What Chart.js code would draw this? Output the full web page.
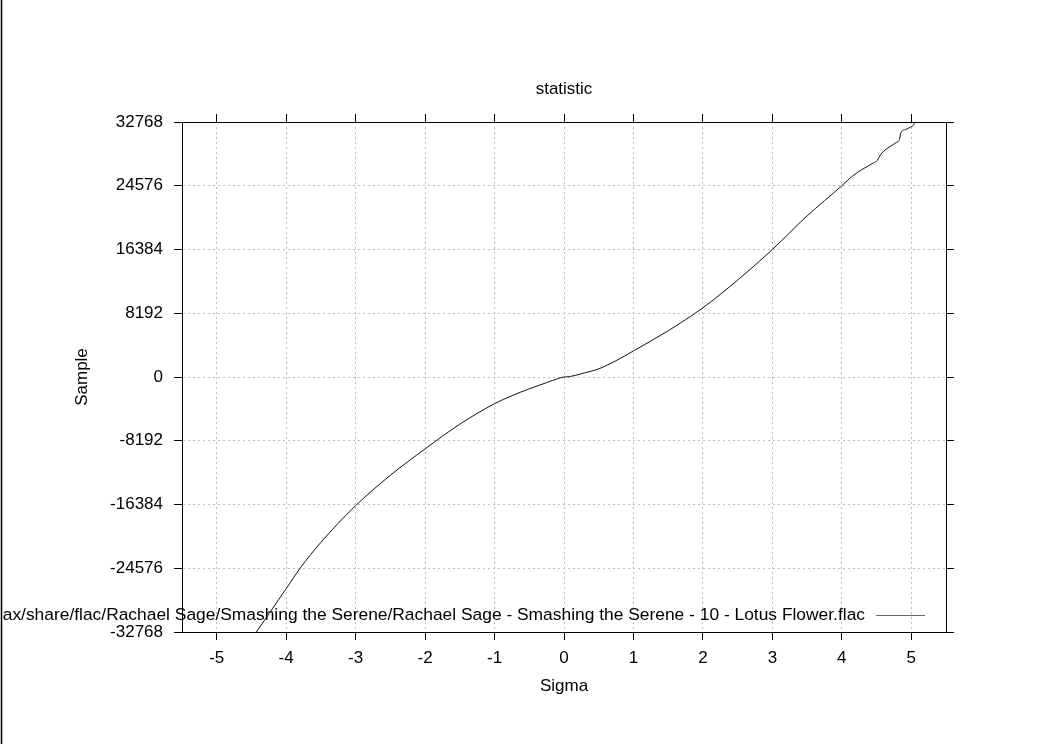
<!DOCTYPE html>
<html>
<head>
<meta charset="utf-8">
<script src="https://cdn.jsdelivr.net/npm/chart.js@4"></script>
<style>
html,body{margin:0;padding:0;background:#fff;overflow:hidden;}
canvas{display:block;}
</style>
</head>
<body>
<canvas id="c" width="1052" height="744"></canvas>
<script>
// ---- data ----
const sigma = [-4.43, -4.20, -4.00, -3.80, -3.50, -3.00, -2.50, -2.00, -1.50, -1.00, -0.75, -0.50, -0.25, -0.08, 0.00, 0.08, 0.25, 0.50, 0.75, 1.00, 1.50, 2.00, 2.50, 3.00, 3.50, 4.00, 4.15, 4.29, 4.46, 4.51, 4.56, 4.68, 4.78, 4.83, 4.85, 4.92, 4.99, 5.04, 5.05];
const sample = [-32768, -29800, -27200, -24576, -21250, -16530, -12630, -9240, -6060, -3430, -2400, -1520, -720, -190, 0, 50, 420, 1050, 2100, 3350, 5940, 8900, 12450, 16384, 20700, 24576, 25800, 26660, 27530, 27820, 28600, 29540, 30100, 30530, 31390, 31820, 32120, 32470, 32767];
const xTicks = [-5, -4, -3, -2, -1, 0, 1, 2, 3, 4, 5];
const yTicks = [-32768, -24576, -16384, -8192, 0, 8192, 16384, 24576, 32768];
const titleText = 'statistic';
const xTitle = 'Sigma';
const yTitle = 'Sample';
const seriesLabel = 'ax/share/flac/Rachael Sage/Smashing the Serene/Rachael Sage - Smashing the Serene - 10 - Lotus Flower.flac';

const FONT = 'Liberation Sans, Arial, Helvetica, sans-serif';
const FS = 17;
const LEGEND_FS = 17.4;

const points = sigma.map((s, i) => ({x: s, y: sample[i]}));

function fixTicks(arr) {
  return function (scale) { scale.ticks = arr.map(v => ({value: v})); };
}

const gridCommon = {
  color: '#bdbdbd',
  lineWidth: 1,
  tickColor: '#000',
  tickLength: 8,
  tickBorderDash: [],
  tickWidth: 1
};
const borderCommon = {display: true, color: '#000', width: 1, dash: [2, 3]};

const overlay = {
  id: 'overlay',
  afterDraw(chart) {
    const ctx = chart.ctx;
    const a = chart.chartArea;
    ctx.save();
    // left edge line of the picture
    ctx.strokeStyle = '#000';
    ctx.lineWidth = 1.5;
    ctx.beginPath();
    ctx.moveTo(1.5, 0);
    ctx.lineTo(1.5, chart.height);
    ctx.stroke();
    // title
    ctx.fillStyle = '#000';
    ctx.font = FS + 'px ' + FONT;
    ctx.textAlign = 'center';
    ctx.textBaseline = 'middle';
    ctx.fillText(titleText, (a.left + a.right) / 2, 89.5);
    // legend (inside plot, bottom right)
    const ly = 615;
    const lineR = a.right - 21;
    const lineL = lineR - 49;
    ctx.font = LEGEND_FS + 'px ' + FONT;
    ctx.textAlign = 'right';
    ctx.fillText(chart.data.datasets[0].label, lineL - 11, ly);
    ctx.strokeStyle = '#666';
    ctx.lineWidth = 1;
    ctx.beginPath();
    ctx.moveTo(lineL, ly + 0.5);
    ctx.lineTo(lineR, ly + 0.5);
    ctx.stroke();
    ctx.restore();
  }
};

new Chart(document.getElementById('c'), {
  type: 'line',
  data: {
    datasets: [{
      label: seriesLabel,
      data: points,
      borderColor: '#111',
      borderWidth: 1,
      pointRadius: 0,
      cubicInterpolationMode: 'monotone',
      fill: false,
      xAxisID: 'x',
      yAxisID: 'y'
    }]
  },
  options: {
    responsive: false,
    animation: false,
    devicePixelRatio: 1,
    layout: {padding: 0},
    plugins: {legend: {display: false}, title: {display: false}, tooltip: {enabled: false}},
    scales: {
      x: {
        type: 'linear', position: 'bottom', min: -5.5, max: 5.5,
        afterBuildTicks: fixTicks(xTicks),
        afterFit(s) { s.height = 112; },
        grid: gridCommon,
        border: borderCommon,
        ticks: {color: '#000', font: {family: FONT, size: FS}, padding: 8, maxRotation: 0, autoSkip: false},
        title: {display: true, text: xTitle, color: '#000', font: {family: FONT, size: FS}, padding: {top: 0, bottom: 47}}
      },
      x2: {
        type: 'linear', position: 'top', min: -5.5, max: 5.5,
        afterBuildTicks: fixTicks(xTicks),
        afterFit(s) { s.height = 122; },
        grid: Object.assign({}, gridCommon, {drawOnChartArea: false}),
        border: {display: true, color: '#000', width: 1},
        ticks: {display: false}
      },
      y: {
        type: 'linear', position: 'left', min: -32768, max: 32768,
        afterBuildTicks: fixTicks(yTicks),
        afterFit(s) { s.width = 182; },
        grid: gridCommon,
        border: borderCommon,
        ticks: {color: '#000', font: {family: FONT, size: FS}, padding: 11, autoSkip: false, callback: v => String(v)},
        title: {display: true, text: yTitle, color: '#000', font: {family: FONT, size: FS}, padding: {top: 72, bottom: 0}}
      },
      y2: {
        type: 'linear', position: 'right', min: -32768, max: 32768,
        afterBuildTicks: fixTicks(yTicks),
        afterFit(s) { s.width = 106; },
        grid: Object.assign({}, gridCommon, {drawOnChartArea: false}),
        border: {display: true, color: '#000', width: 1},
        ticks: {display: false}
      }
    }
  },
  plugins: [overlay]
});
</script>
</body>
</html>
